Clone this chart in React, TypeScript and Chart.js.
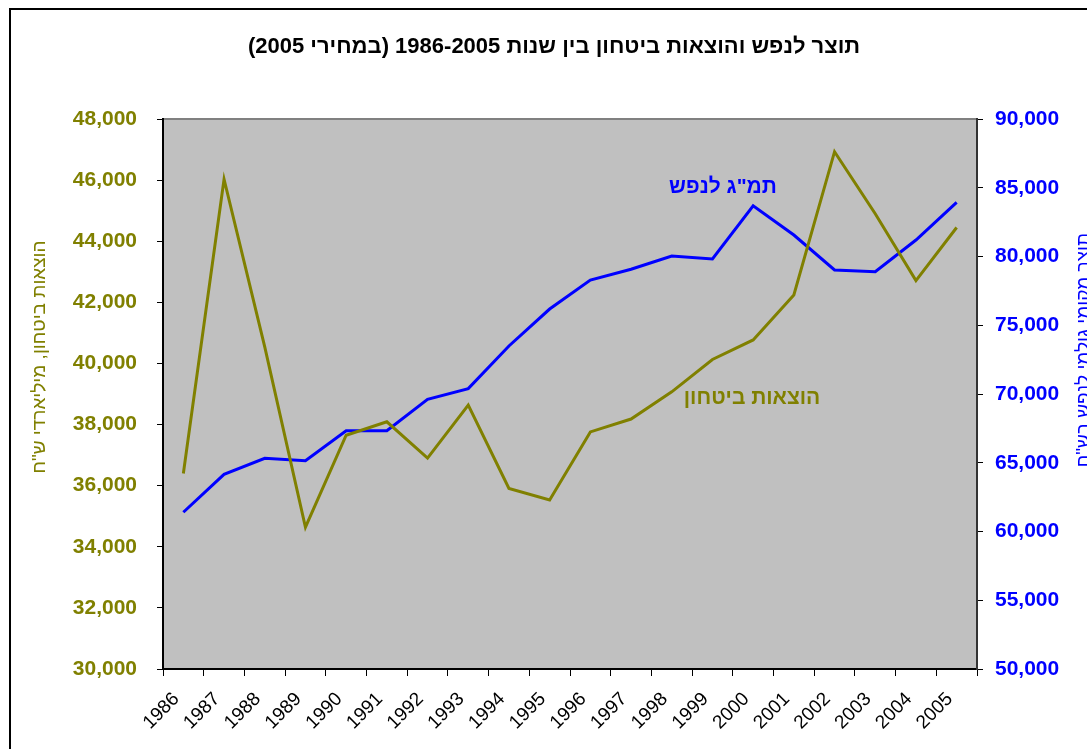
import React, { useEffect, useRef } from "react";
import { Chart, registerables } from "chart.js";

Chart.register(...registerables);

// ---------- data ----------
const years = [
  "1986", "1987", "1988", "1989", "1990", "1991", "1992", "1993", "1994", "1995",
  "1996", "1997", "1998", "1999", "2000", "2001", "2002", "2003", "2004", "2005",
];

// defense spending, millions NIS (left axis)
const defenseSpending = [
  36400, 46030, 40540, 34640, 37650, 38090, 36900, 38640, 35910, 35530,
  37760, 38180, 39070, 40130, 40770, 42240, 46930, 44900, 42710, 44450,
];

// GDP per capita, NIS (right axis)
const gdpPerCapita = [
  61400, 64160, 65320, 65150, 67330, 67330, 69610, 70390, 73490, 76180,
  78290, 79070, 80040, 79820, 83690, 81560, 79020, 78900, 81200, 83940,
];

const leftAxisRange = [30000, 48000, 2000];
const rightAxisRange = [50000, 90000, 5000];

const chartTitle = 'תוצר לנפש והוצאות ביטחון בין שנות 1986-2005 (במחירי 2005)';
const leftAxisTitle = 'הוצאות ביטחון, מיליארדי ש"ח';
const rightAxisTitle = 'תוצר מקומי גולמי לנפש בש"ח';
const gdpLabel = 'תמ"ג לנפש';
const defenseLabel = "הוצאות ביטחון";

const OLIVE = "#808000";
const BLUE = "#0000FF";
const FONT = '"Liberation Sans", Arial, "DejaVu Sans", sans-serif';

const fmt = (v: number) => v.toLocaleString("en-US");

const decorPlugin = {
  id: "decor",
  beforeDraw(chart: any) {
    const { ctx, chartArea: a } = chart;
    ctx.save();
    ctx.fillStyle = "#ffffff";
    ctx.fillRect(0, 0, chart.width, chart.height);
    // chart outer border
    ctx.strokeStyle = "#000000";
    ctx.lineWidth = 2;
    ctx.beginPath();
    ctx.moveTo(10, chart.height + 5);
    ctx.lineTo(10, 9);
    ctx.lineTo(chart.width + 5, 9);
    ctx.stroke();
    // plot background
    ctx.fillStyle = "#C0C0C0";
    ctx.fillRect(a.left, a.top, a.right - a.left, a.bottom - a.top);
    ctx.strokeStyle = "#808080";
    ctx.lineWidth = 2;
    ctx.strokeRect(a.left, a.top, a.right - a.left, a.bottom - a.top);
    ctx.restore();
  },
  afterDraw(chart: any) {
    const { ctx } = chart;
    ctx.save();
    ctx.direction = "rtl";
    ctx.textAlign = "center";
    ctx.textBaseline = "middle";
    // title
    ctx.fillStyle = "#000000";
    ctx.font = `bold 22px ${FONT}`;
    ctx.fillText(chartTitle, 554, 47);
    // series labels
    ctx.font = `bold 21px ${FONT}`;
    ctx.fillStyle = BLUE;
    ctx.fillText(gdpLabel, 723, 187);
    ctx.fillStyle = OLIVE;
    ctx.fillText(defenseLabel, 752, 398);
    // axis titles
    ctx.font = `19px ${FONT}`;
    ctx.fillStyle = OLIVE;
    ctx.save();
    ctx.translate(40, 357);
    ctx.rotate(-Math.PI / 2);
    ctx.fillText(leftAxisTitle, 0, 0);
    ctx.restore();
    ctx.fillStyle = BLUE;
    ctx.save();
    ctx.translate(1084, 350);
    ctx.rotate(-Math.PI / 2);
    ctx.fillText(rightAxisTitle, 0, 0);
    ctx.restore();
    ctx.restore();
  },
};

export default function App() {
  const ref = useRef<HTMLCanvasElement | null>(null);
  useEffect(() => {
    if (!ref.current) return;
    const chart = new Chart(ref.current, {
      type: "line",
      data: {
        labels: years,
        datasets: [
          {
            label: defenseLabel,
            data: defenseSpending,
            borderColor: OLIVE,
            backgroundColor: OLIVE,
            borderWidth: 3,
            pointRadius: 0,
            tension: 0,
            yAxisID: "y",
          },
          {
            label: gdpLabel,
            data: gdpPerCapita,
            borderColor: BLUE,
            backgroundColor: BLUE,
            borderWidth: 3,
            pointRadius: 0,
            tension: 0,
            yAxisID: "y1",
          },
        ],
      },
      options: {
        responsive: false,
        animation: false,
        devicePixelRatio: 1,
        layout: { padding: { left: 0, top: 119, right: 0, bottom: 0 } },
        plugins: {
          legend: { display: false },
          title: { display: false },
          tooltip: { enabled: false },
        },
        scales: {
          x: {
            type: "category",
            offset: true,
            grid: {
              offset: true,
              drawOnChartArea: false,
              tickLength: 7,
              color: "#000000",
              lineWidth: 1,
            },
            border: { color: "#000000", width: 2 },
            ticks: {
              autoSkip: false,
              maxRotation: 45,
              minRotation: 45,
              color: "#000000",
              padding: 12,
              labelOffset: -7,
              font: { family: FONT, size: 19 },
            },
            afterFit: (s: any) => {
              s.height = 80;
            },
          },
          y: {
            position: "left",
            min: leftAxisRange[0],
            max: leftAxisRange[1],
            grid: { drawOnChartArea: false, tickLength: 6, color: "#000000" },
            border: { color: "#000000", width: 2 },
            ticks: {
              stepSize: leftAxisRange[2],
              color: OLIVE,
              padding: 20,
              font: { family: FONT, size: 21, weight: "bold" },
              callback: (v: any) => fmt(Number(v)),
            },
            afterFit: (s: any) => {
              s.width = 163;
            },
          },
          y1: {
            position: "right",
            min: rightAxisRange[0],
            max: rightAxisRange[1],
            grid: { drawOnChartArea: false, tickLength: 6, color: "#000000" },
            border: { color: "#333333", width: 2 },
            ticks: {
              stepSize: rightAxisRange[2],
              color: BLUE,
              padding: 12,
              font: { family: FONT, size: 21, weight: "bold" },
              callback: (v: any) => fmt(Number(v)),
            },
            afterFit: (s: any) => {
              s.width = 110;
            },
          },
        },
      },
      plugins: [decorPlugin],
    });
    return () => chart.destroy();
  }, []);

  return (
    <div style={{ position: "fixed", left: 0, top: 0, width: 1087, height: 749, overflow: "hidden", background: "#fff" }}>
      <canvas ref={ref} width={1087} height={749} style={{ display: "block", width: 1087, height: 749 }} />
    </div>
  );
}
